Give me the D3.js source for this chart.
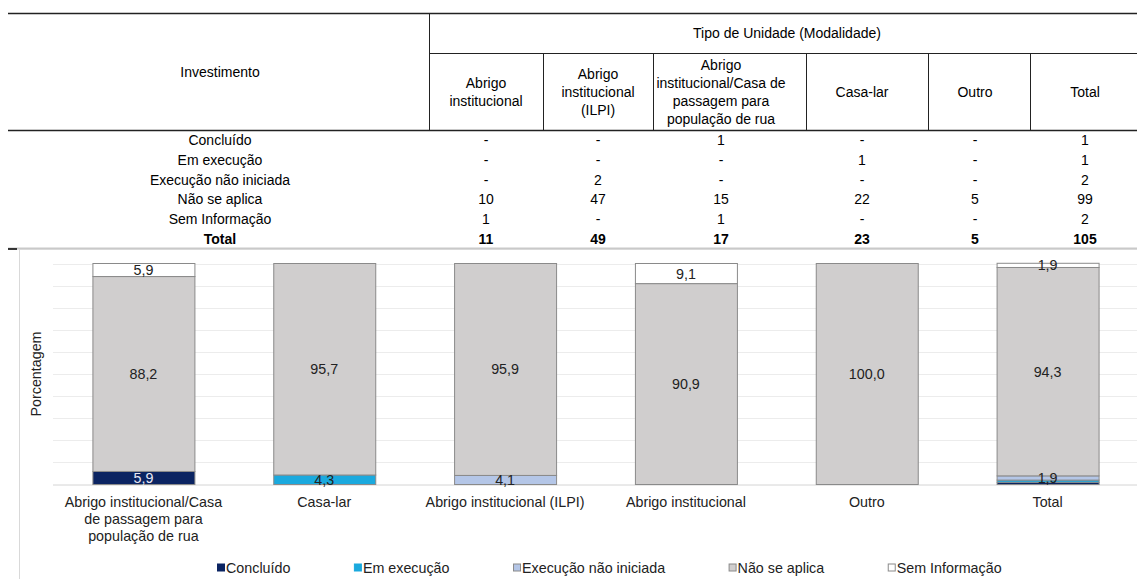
<!DOCTYPE html>
<html>
<head>
<meta charset="utf-8">
<script src="https://cdn.jsdelivr.net/npm/d3@7"></script>
<style>
  html, body { margin: 0; padding: 0; background: #fff; }
  svg { display: block; font-family: "Liberation Sans", Arial, sans-serif; }
</style>
</head>
<body>
<svg id="chart" width="1137" height="579"></svg>
<script>
// ---------------- DATA ----------------
const tableHeaderGroup = "Tipo de Unidade (Modalidade)";
const tableRowHeader = "Investimento";
const tableColumnHeaders = [
  ["Abrigo", "institucional"],
  ["Abrigo", "institucional", "(ILPI)"],
  ["Abrigo", "institucional/Casa de", "passagem para", "população de rua"],
  ["Casa-lar"],
  ["Outro"],
  ["Total"]
];
const tableRowLabels = ["Concluído", "Em execução", "Execução não iniciada", "Não se aplica", "Sem Informação", "Total"];
const rowConcluido   = ["-", "-", "1", "-", "-", "1"];
const rowEmExecucao  = ["-", "-", "-", "1", "-", "1"];
const rowNaoIniciada = ["-", "2", "-", "-", "-", "2"];
const rowNaoSeAplica = ["10", "47", "15", "22", "5", "99"];
const rowSemInfo     = ["1", "-", "1", "-", "-", "2"];
const rowTotal       = ["11", "49", "17", "23", "5", "105"];

const categories = [
  "Abrigo institucional/Casa de passagem para população de rua",
  "Casa-lar",
  "Abrigo institucional (ILPI)",
  "Abrigo institucional",
  "Outro",
  "Total"
];
const seriesNames = ["Concluído", "Em execução", "Execução não iniciada", "Não se aplica", "Sem Informação"];
const concluido      = [5.9, 0, 0, 0, 0, 1.0];
const emExecucao     = [0, 4.3, 0, 0, 0, 1.0];
const naoIniciada    = [0, 0, 4.1, 0, 0, 1.9];
const naoSeAplica    = [88.2, 95.7, 95.9, 90.9, 100.0, 94.3];
const semInformacao  = [5.9, 0, 0, 9.1, 0, 1.9];
const yAxisTitle = "Porcentagem";

// ---------------- STYLE / LAYOUT ----------------
const colors = ["#0b2462", "#1aa9de", "#b4c6e7", "#d0cece", "#ffffff"];
const labelColors = ["#e8e8f4", "#222", "#222", "#222", "#222"];
const svg = d3.select("#chart");
const FS = 14;      // table font
const CFS = 14.3;   // chart font

// ---------------- TABLE ----------------
const tbl = svg.append("g");
const colEdges = [429, 543, 653, 806, 928, 1030, 1137];
const colCenters = [486, 598, 721, 862, 975, 1085];
const dark = "#222";
tbl.append("line").attr("x1", 8).attr("x2", 1137).attr("y1", 13.5).attr("y2", 13.5).attr("stroke", dark).attr("stroke-width", 1.5);
tbl.append("line").attr("x1", 8).attr("x2", 1137).attr("y1", 130.5).attr("y2", 130.5).attr("stroke", dark).attr("stroke-width", 1.5);
tbl.append("line").attr("x1", 429).attr("x2", 1137).attr("y1", 53.5).attr("y2", 53.5).attr("stroke", dark).attr("stroke-width", 1);
tbl.append("line").attr("x1", 429.5).attr("x2", 429.5).attr("y1", 13).attr("y2", 131).attr("stroke", dark).attr("stroke-width", 1);
colEdges.slice(1, 6).forEach(x => {
  tbl.append("line").attr("x1", x + 0.5).attr("x2", x + 0.5).attr("y1", 53).attr("y2", 131).attr("stroke", dark).attr("stroke-width", 1);
});
tbl.append("text").attr("x", 220).attr("y", 72).attr("text-anchor", "middle").attr("dominant-baseline", "central")
  .attr("font-size", FS).attr("fill", "#000").text(tableRowHeader);
tbl.append("text").attr("x", 787).attr("y", 33).attr("text-anchor", "middle").attr("dominant-baseline", "central")
  .attr("font-size", FS).attr("fill", "#000").text(tableHeaderGroup);
const hdrMid = 92, hdrLH = 18.3;
tableColumnHeaders.forEach((lines, i) => {
  const start = hdrMid - (lines.length - 1) * hdrLH / 2;
  lines.forEach((ln, j) => {
    tbl.append("text").attr("x", colCenters[i]).attr("y", start + j * hdrLH)
      .attr("text-anchor", "middle").attr("dominant-baseline", "central")
      .attr("font-size", FS).attr("fill", "#000").text(ln);
  });
});
const tableRows = [rowConcluido, rowEmExecucao, rowNaoIniciada, rowNaoSeAplica, rowSemInfo, rowTotal];
const rowY = d3.scaleLinear().domain([0, 5]).range([140, 239]);
tableRowLabels.forEach((lab, r) => {
  const bold = r === tableRowLabels.length - 1;
  tbl.append("text").attr("x", 220).attr("y", rowY(r)).attr("text-anchor", "middle").attr("dominant-baseline", "central")
    .attr("font-size", FS).attr("font-weight", bold ? "bold" : "normal").attr("fill", "#000").text(lab);
  tableRows[r].forEach((v, c) => {
    tbl.append("text").attr("x", colCenters[c]).attr("y", rowY(r)).attr("text-anchor", "middle").attr("dominant-baseline", "central")
      .attr("font-size", FS).attr("font-weight", bold ? "bold" : "normal").attr("fill", "#000").text(v);
  });
});
// separator under table
tbl.append("line").attr("x1", 8).attr("x2", 1137).attr("y1", 248.5).attr("y2", 248.5).attr("stroke", "#c9c9c9").attr("stroke-width", 2);
tbl.append("line").attr("x1", 8).attr("x2", 17).attr("y1", 249).attr("y2", 249).attr("stroke", "#000").attr("stroke-width", 1.5);

// ---------------- CHART ----------------
const ch = svg.append("g");
ch.append("rect").attr("x", 19.5).attr("y", 249.5).attr("width", 1130).attr("height", 340)
  .attr("fill", "#fff").attr("stroke", "#d9d9d9").attr("stroke-width", 1);

const x = d3.scaleBand().domain(categories).range([53, 1138]).paddingInner(0.436).paddingOuter(0.218);
const y = d3.scaleLinear().domain([0, 100]).range([484.5, 263.5]);

// gridlines
ch.append("g").selectAll("line").data(y.ticks(10).filter(t => t > 0)).join("line")
  .attr("x1", 53).attr("x2", 1137).attr("y1", d => Math.round(y(d)) + 0.5).attr("y2", d => Math.round(y(d)) + 0.5)
  .attr("stroke", "#ececec").attr("stroke-width", 1);
ch.append("line").attr("x1", 53).attr("x2", 1137).attr("y1", y(0) + 0.5).attr("y2", y(0) + 0.5)
  .attr("stroke", "#d4d4d4").attr("stroke-width", 1);

const seriesData = [concluido, emExecucao, naoIniciada, naoSeAplica, semInformacao];
const rows = categories.map((c, i) => {
  const o = { cat: c };
  seriesNames.forEach((s, k) => o[s] = seriesData[k][i]);
  return o;
});
const stacked = d3.stack().keys(seriesNames)(rows);

const fmt = v => d3.format(".1f")(v).replace(".", ",");

stacked.forEach((layer, k) => {
  const g = ch.append("g");
  g.selectAll("rect").data(layer.filter(d => d[1] - d[0] > 0)).join("rect")
    .attr("x", d => x(d.data.cat) + 0.5)
    .attr("width", x.bandwidth())
    .attr("y", d => y(d[1]))
    .attr("height", d => y(d[0]) - y(d[1]))
    .attr("fill", colors[k])
    .attr("stroke", "#8a8a8a").attr("stroke-width", 1);
});
stacked.forEach((layer, k) => {
  ch.append("g").selectAll("text").data(layer.filter(d => d[1] - d[0] >= 1.5)).join("text")
    .attr("x", d => x(d.data.cat) + x.bandwidth() / 2)
    .attr("y", d => (y(d[0]) + y(d[1])) / 2)
    .attr("text-anchor", "middle").attr("dominant-baseline", "central")
    .attr("font-size", CFS).attr("fill", labelColors[k])
    .text(d => fmt(d[1] - d[0]));
});

// y axis title
ch.append("text").attr("transform", `translate(36,${(y(0) + y(100)) / 2}) rotate(-90)`)
  .attr("text-anchor", "middle").attr("dominant-baseline", "central")
  .attr("font-size", 14.3).attr("fill", "#222").text(yAxisTitle);

// x axis labels with wrapping
const xAxis = ch.append("g").attr("transform", `translate(0,${y(0)})`)
  .call(d3.axisBottom(x).tickSize(0).tickPadding(12.5));
xAxis.select(".domain").remove();
xAxis.selectAll("text").attr("font-size", CFS).attr("fill", "#222")
  .attr("font-family", "Liberation Sans, Arial, sans-serif")
  .each(function () {
    const t = d3.select(this);
    const words = t.text().split(/\s+/);
    t.text(null);
    const yy = t.attr("y"), dy = parseFloat(t.attr("dy"));
    let line = [], lineNo = 0;
    let ts = t.append("tspan").attr("x", 0).attr("y", yy).attr("dy", dy + "em");
    words.forEach(w => {
      line.push(w);
      ts.text(line.join(" "));
      if (ts.node().getComputedTextLength() > 170 && line.length > 1) {
        line.pop();
        ts.text(line.join(" "));
        line = [w];
        lineNo++;
        ts = t.append("tspan").attr("x", 0).attr("y", yy).attr("dy", (dy + lineNo * 1.17) + "em").text(w);
      }
    });
  });

// legend
const leg = ch.append("g").attr("transform", "translate(217,567.5)");
let lx = 0;
seriesNames.forEach((s, k) => {
  const gi = leg.append("g").attr("transform", `translate(${lx},0)`);
  gi.append("rect").attr("x", 0.5).attr("y", -3.5).attr("width", 7).attr("height", 7)
    .attr("fill", colors[k]).attr("stroke", k >= 2 ? "#8a8a8a" : colors[k]).attr("stroke-width", 1);
  const t = gi.append("text").attr("x", 9).attr("y", 0).attr("dominant-baseline", "central")
    .attr("font-size", CFS).attr("fill", "#222").text(s);
  lx += 9 + t.node().getComputedTextLength() + 63.5;
});
</script>
</body>
</html>
